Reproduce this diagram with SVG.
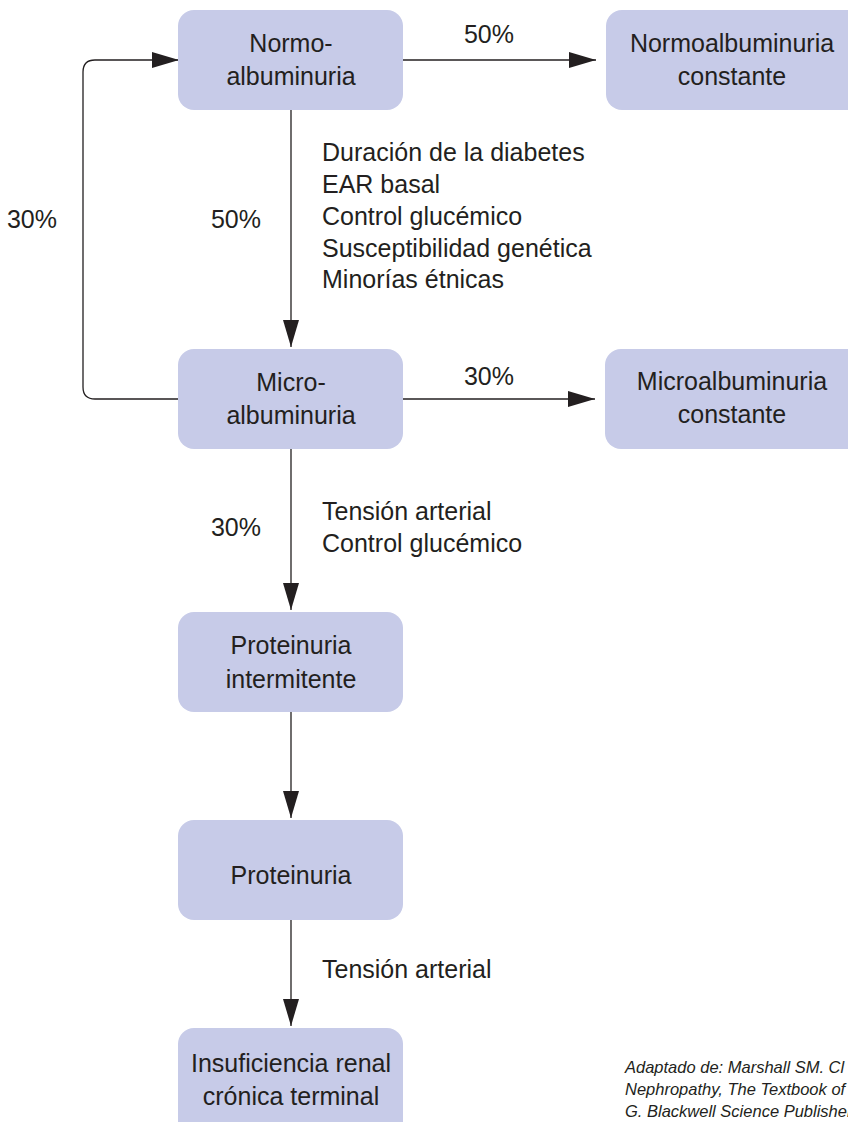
<svg xmlns="http://www.w3.org/2000/svg" width="848" height="1122" viewBox="0 0 848 1122">
<style>
.box{fill:#c7cbe8;}
.t{font-family:"Liberation Sans",Arial,sans-serif;font-size:25px;fill:#231f20;}
.c{text-anchor:middle;}
.ln{fill:none;stroke:#231f20;stroke-width:1.3;}
.note{font-family:"Liberation Sans",Arial,sans-serif;font-size:16.5px;font-style:italic;fill:#231f20;}
</style>
<defs>
<marker id="arr" markerUnits="userSpaceOnUse" markerWidth="28" markerHeight="16" refX="27" refY="8" orient="auto">
<path d="M0,0 L27,8 L0,16 Z" fill="#231f20"/>
</marker>
</defs>
<rect width="848" height="1122" fill="#ffffff"/>
<g id="connectors">
<path class="ln" d="M403,60 H596" marker-end="url(#arr)"/>
<path class="ln" d="M291,110 V347" marker-end="url(#arr)"/>
<path class="ln" d="M403,399 H595" marker-end="url(#arr)"/>
<path class="ln" d="M178,399 H95 Q83,399 83,387 V72 Q83,60 95,60 H179" marker-end="url(#arr)"/>
<path class="ln" d="M291,449 V610" marker-end="url(#arr)"/>
<path class="ln" d="M291,712 V818" marker-end="url(#arr)"/>
<path class="ln" d="M291,920 V1026" marker-end="url(#arr)"/>
<text class="t c" x="489" y="43">50%</text>
<text class="t c" x="236" y="228">50%</text>
<text class="t c" x="32" y="228">30%</text>
<text class="t" x="322" y="161">Duración de la diabetes</text>
<text class="t" x="322" y="193">EAR basal</text>
<text class="t" x="322" y="225">Control glucémico</text>
<text class="t" x="322" y="257">Susceptibilidad genética</text>
<text class="t" x="322" y="288">Minorías étnicas</text>
<text class="t c" x="489" y="385">30%</text>
<text class="t c" x="236" y="536">30%</text>
<text class="t" x="322" y="520">Tensión arterial</text>
<text class="t" x="322" y="552">Control glucémico</text>
<text class="t" x="322" y="978">Tensión arterial</text>
</g>
<g id="normo">
<rect class="box" x="178" y="10" width="225" height="100" rx="16"/>
<text class="t c" x="291" y="52">Normo-</text>
<text class="t c" x="291" y="85">albuminuria</text>
</g>
<g id="normo-constante">
<rect class="box" x="606" y="10" width="270" height="100" rx="16"/>
<text class="t c" x="732" y="52">Normoalbuminuria</text>
<text class="t c" x="732" y="85">constante</text>
</g>
<g id="micro">
<rect class="box" x="178" y="349" width="225" height="100" rx="16"/>
<text class="t c" x="291" y="391">Micro-</text>
<text class="t c" x="291" y="424">albuminuria</text>
</g>
<g id="micro-constante">
<rect class="box" x="605" y="349" width="270" height="100" rx="16"/>
<text class="t c" x="732" y="390">Microalbuminuria</text>
<text class="t c" x="732" y="423">constante</text>
</g>
<g id="proteinuria-intermitente">
<rect class="box" x="178" y="612" width="225" height="100" rx="16"/>
<text class="t c" x="291" y="654">Proteinuria</text>
<text class="t c" x="291" y="688">intermitente</text>
</g>
<g id="proteinuria">
<rect class="box" x="178" y="820" width="225" height="100" rx="16"/>
<text class="t c" x="291" y="884">Proteinuria</text>
</g>
<g id="insuficiencia">
<rect class="box" x="178" y="1028" width="225" height="110" rx="16"/>
<text class="t c" x="291" y="1072">Insuficiencia renal</text>
<text class="t c" x="291" y="1105">crónica terminal</text>
</g>
<g id="nota">
<text class="note" x="625" y="1073">Adaptado de: Marshall SM. Cl</text>
<text class="note" x="625" y="1095">Nephropathy, The Textbook of</text>
<text class="note" x="625" y="1117">G. Blackwell Science Publisher</text>
</g>
</svg>
